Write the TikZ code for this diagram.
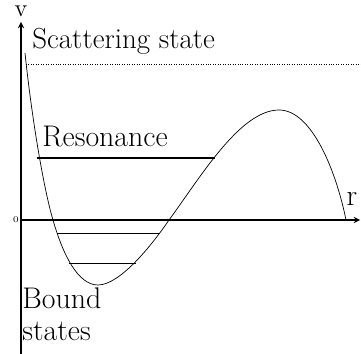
\documentclass[tikz,border=0pt]{standalone}
\usetikzlibrary{calc}

\begin{document}
\begin{tikzpicture}[x=0.02cm, y=-0.02cm, thin]
  \useasboundingbox (0,0) rectangle (361,354);
  \coordinate (O) at (21, 220);
  \coordinate (V) at (21, 22);
  \coordinate (R) at (360, 220);
  \coordinate (Vb) at (21, 354);
  % axes
  \draw[semithick, -stealth] (Vb) -- (V);
  \draw[semithick, -stealth] (O) -- (R);
  % potential curve
  \draw (25,53) .. controls (32,120) and (44,190) .. (53,220)
        .. controls (63,255) and (78,285) .. (98,285)
        .. controls (120,285) and (152,245) .. (169,220)
        .. controls (200,178) and (240,110) .. (279,110)
        .. controls (313,110) and (337,175) .. (346,220);
  % levels
  \coordinate (S1) at (26, 64);
  \coordinate (S2) at (361, 64);
  \draw[densely dotted] (S1) -- (S2);
  \coordinate (Q1) at (37, 158);
  \coordinate (Q2) at (215, 158);
  \draw[very thick] (Q1) -- (Q2);
  \coordinate (B1) at (57, 233);
  \coordinate (B2) at (159, 233);
  \draw (B1) -- (B2);
  \coordinate (C1) at (69, 263);
  \coordinate (C2) at (136, 263);
  \draw (C1) -- (C2);

  \node[inner sep=0pt, font=\fontsize{14}{16}\selectfont] at (21, 11) {v};
  \node[inner sep=0pt, font=\fontsize{17}{18}\selectfont] at (352, 199) {r};
  \node[left, inner sep=1pt, font=\tiny] at (O) {0};
  \node[right, inner sep=0pt, font=\fontsize{16.5}{18}\selectfont] at (32, 41) {Scattering state};
  \node[right, inner sep=0pt, font=\fontsize{17}{18}\selectfont] at (42, 137) {Resonance};
  \node[right, inner sep=0pt, align=left, font=\fontsize{17}{18}\selectfont] at (22, 314) {Bound\\states};
\end{tikzpicture}
\end{document}
